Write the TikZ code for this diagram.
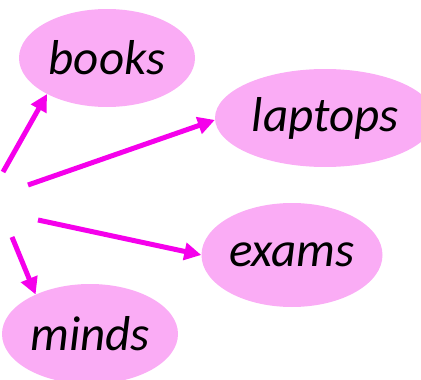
\documentclass[tikz,border=0pt]{standalone}
\usepackage{fontspec}
\setmainfont{Carlito}
\usetikzlibrary{arrows.meta,shapes.geometric}
\definecolor{blobfill}{RGB}{250,172,245}
\definecolor{arrowcol}{RGB}{245,0,235}
\tikzset{
  blob/.style={ellipse, fill=blobfill, inner sep=0pt, font=\fontsize{49}{54}\selectfont\itshape},
  link/.style={draw=arrowcol, line width=5pt, -{Triangle[length=17pt,width=17pt]}}
}
\begin{document}
\begin{tikzpicture}[x=1pt,y=-1pt]
\useasboundingbox (0,0) rectangle (421,380);
\clip (0,0) rectangle (421,380);
\node[blob, minimum width=176pt, minimum height=98pt] (books) at (107,58) {books};
\node[blob, minimum width=220pt, minimum height=98pt] (laptops) at (325,118) {laptops};
\node[blob, minimum width=181pt, minimum height=104pt] (exams) at (292,255) {exams};
\node[blob, minimum width=176pt, minimum height=100pt] (minds) at (90,334) {minds};
\coordinate (s1) at (3,172);
\coordinate (s2) at (28,185);
\coordinate (s3) at (38,220);
\coordinate (s4) at (12,237);
\draw[link] (s1) -- (books.211);
\draw[link] (s2) -- (laptops.181);
\draw[link] (s3) -- (exams.west);
\draw[link] (s4) -- (minds.144);
\end{tikzpicture}
\end{document}
